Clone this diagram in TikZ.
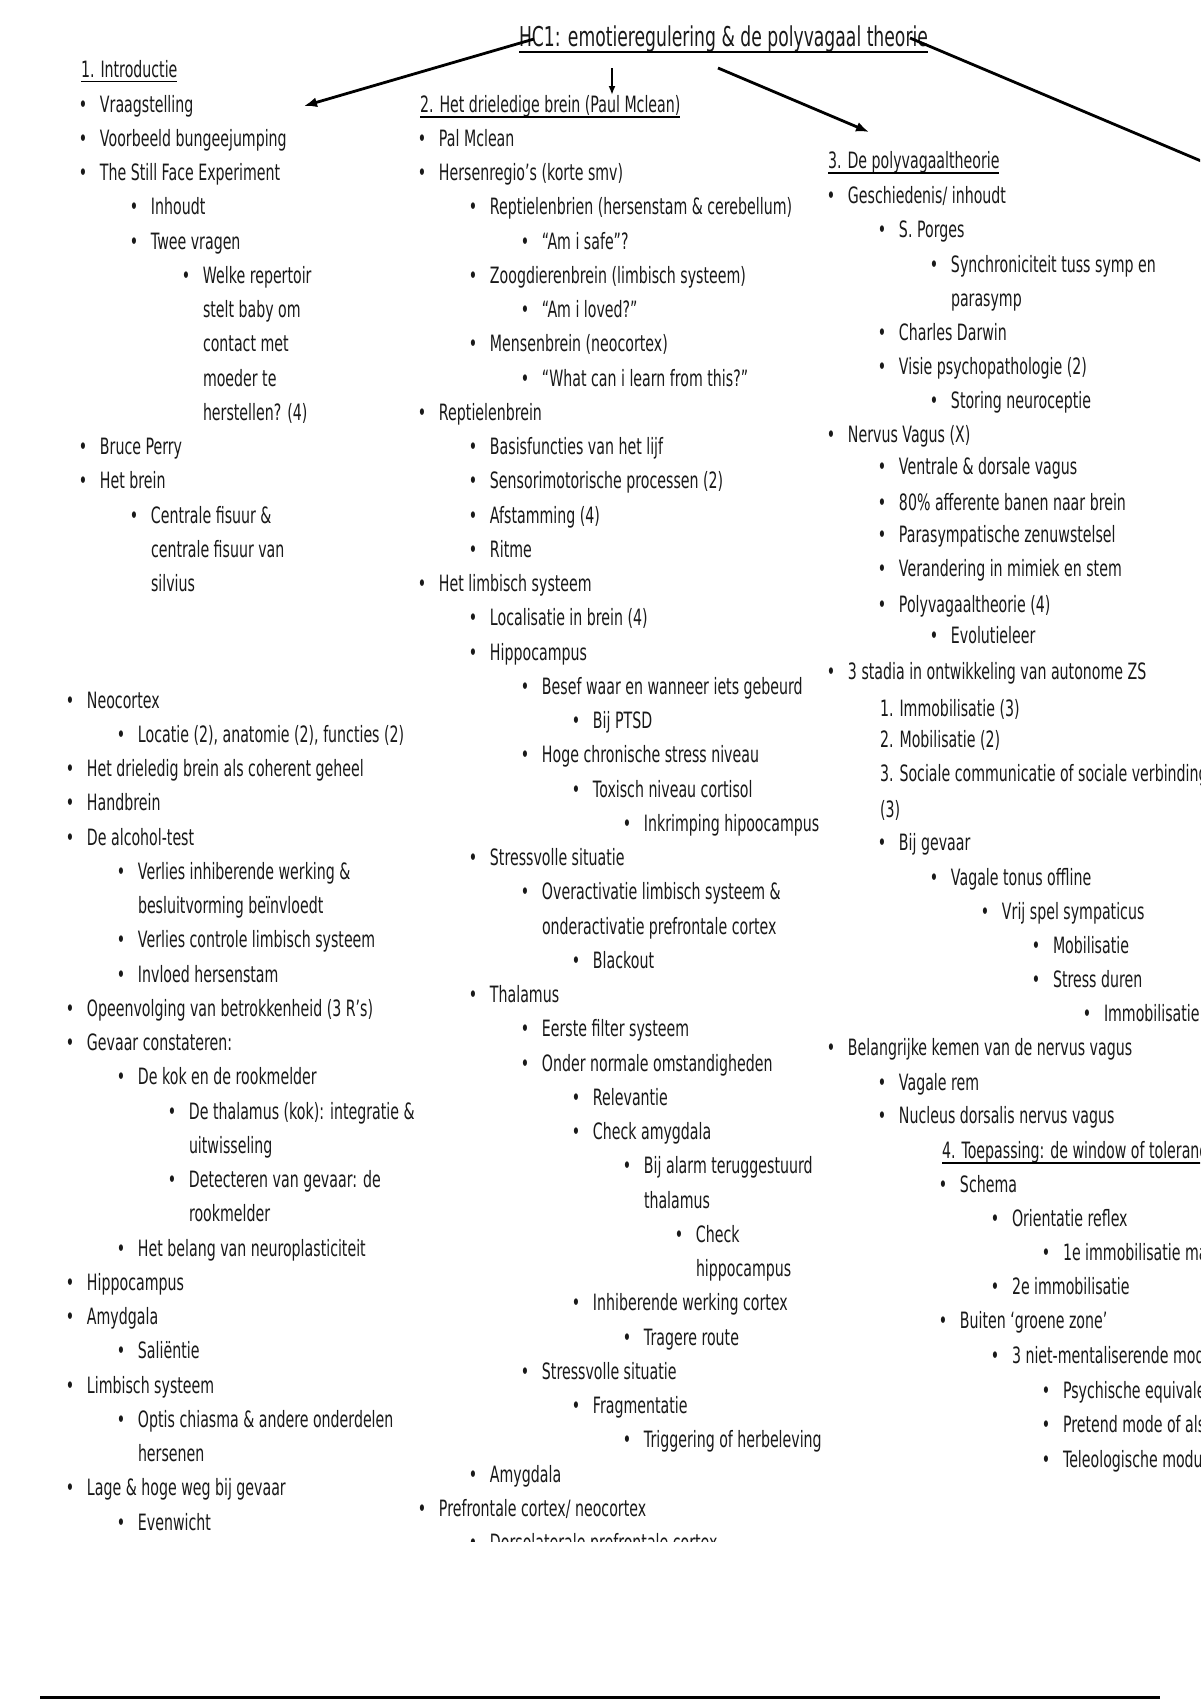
\documentclass[tikz,border=0pt]{standalone}
\usepackage{fontspec}
\setmainfont{DejaVu Sans}[FakeStretch=0.63]
\usetikzlibrary{arrows.meta}
\definecolor{ink}{gray}{0.1}
\newcounter{ln}
\newcommand\itm[3]{\stepcounter{ln}\node[txt] (t\arabic{ln}) at (#1,#2) {\llap{•\hspace{12.8pt}}#3};}
\newcommand\cnt[3]{\stepcounter{ln}\node[txt] (t\arabic{ln}) at (#1,#2) {#3};}
\tikzset{
  txt/.style={anchor=base west, inner sep=0pt, outer sep=0pt, text=ink, font=\fontsize{22.5}{27}\selectfont},
  ul/.style={line width=1.8pt, black},
  arr/.style={line width=2.8pt, black, -{Latex[length=13pt,width=10pt]}},
  arrs/.style={line width=2pt, black, -{Latex[length=9pt,width=7pt]}},
}
\begin{document}
\begin{tikzpicture}[x=1pt,y=-1pt]
\useasboundingbox (0,0) rectangle (1200,1700);
\clip (0,0) rectangle (1200,1700);
\fill[white] (0,0) rectangle (1200,1700);

% title
\node[txt, font=\fontsize{27.3}{32}\selectfont] (title) at (519,46) {HC1: emotieregulering \& de polyvagaal theorie};
\draw[ul] ([yshift=-6pt]title.base west) -- ([yshift=-6pt]title.base east);

% ---------- column 1 ----------
\node[txt] (h1) at (81,77) {1. Introductie};
\draw[ul] ([yshift=-4.5pt]h1.base west) -- ([yshift=-4.5pt]h1.base east);
\itm{100}{112}{Vraagstelling}
\itm{100}{146.25}{Voorbeeld bungeejumping}
\itm{100}{180.5}{The Still Face Experiment}
\itm{151}{214.75}{Inhoudt}
\itm{151}{249}{Twee vragen}
\itm{203}{283.25}{Welke repertoir}
\cnt{203}{317.5}{stelt baby om}
\cnt{203}{351.75}{contact met}
\cnt{203}{386}{moeder te}
\cnt{203}{420.25}{herstellen? (4)}
\itm{100}{454.5}{Bruce Perry}
\itm{100}{488.75}{Het brein}
\itm{151}{523}{Centrale fisuur \&}
\cnt{151}{557.25}{centrale fisuur van}
\cnt{151}{591.5}{silvius}

\itm{87}{708}{Neocortex}
\itm{138}{742.25}{Locatie (2), anatomie (2), functies (2)}
\itm{87}{776.5}{Het drieledig brein als coherent geheel}
\itm{87}{810.75}{Handbrein}
\itm{87}{845}{De alcohol-test}
\itm{138}{879.25}{Verlies inhiberende werking \&}
\cnt{138}{913.5}{besluitvorming beïnvloedt}
\itm{138}{947.75}{Verlies controle limbisch systeem}
\itm{138}{982}{Invloed hersenstam}
\itm{87}{1016.25}{Opeenvolging van betrokkenheid (3 R’s)}
\itm{87}{1050.5}{Gevaar constateren:}
\itm{138}{1084.75}{De kok en de rookmelder}
\itm{189}{1119}{De thalamus (kok): integratie \&}
\cnt{189}{1153.25}{uitwisseling}
\itm{189}{1187.5}{Detecteren van gevaar: de}
\cnt{189}{1221.75}{rookmelder}
\itm{138}{1256}{Het belang van neuroplasticiteit}
\itm{87}{1290.25}{Hippocampus}
\itm{87}{1324.5}{Amydgala}
\itm{138}{1358.75}{Saliëntie}
\itm{87}{1393}{Limbisch systeem}
\itm{138}{1427.25}{Optis chiasma \& andere onderdelen}
\cnt{138}{1461.5}{hersenen}
\itm{87}{1495.75}{Lage \& hoge weg bij gevaar}
\itm{138}{1530}{Evenwicht}

% ---------- column 2 ----------
\node[txt] (h2) at (420,112) {2. Het drieledige brein (Paul Mclean)};
\draw[ul] ([yshift=-5pt]h2.base west) -- ([yshift=-5pt]h2.base east);
\itm{439}{146.25}{Pal Mclean}
\itm{439}{180.5}{Hersenregio’s (korte smv)}
\itm{490}{214.75}{Reptielenbrien (hersenstam \& cerebellum)}
\itm{542}{249}{“Am i safe"?}
\itm{490}{283.25}{Zoogdierenbrein (limbisch systeem)}
\itm{542}{317.5}{“Am i loved?"}
\itm{490}{351.75}{Mensenbrein (neocortex)}
\itm{542}{386}{“What can i learn from this?"}
\itm{439}{420.25}{Reptielenbrein}
\itm{490}{454.5}{Basisfuncties van het lijf}
\itm{490}{488.75}{Sensorimotorische processen (2)}
\itm{490}{523}{Afstamming (4)}
\itm{490}{557.25}{Ritme}
\itm{439}{591.5}{Het limbisch systeem}
\itm{490}{625.75}{Localisatie in brein (4)}
\itm{490}{660}{Hippocampus}
\itm{542}{694.25}{Besef waar en wanneer iets gebeurd}
\itm{593}{728.5}{Bij PTSD}
\itm{542}{762.75}{Hoge chronische stress niveau}
\itm{593}{797}{Toxisch niveau cortisol}
\itm{644}{831.25}{Inkrimping hipoocampus}
\itm{490}{865.5}{Stressvolle situatie}
\itm{542}{899.75}{Overactivatie limbisch systeem \&}
\cnt{542}{934}{onderactivatie prefrontale cortex}
\itm{593}{968.25}{Blackout}
\itm{490}{1002.5}{Thalamus}
\itm{542}{1036.75}{Eerste filter systeem}
\itm{542}{1071}{Onder normale omstandigheden}
\itm{593}{1105.25}{Relevantie}
\itm{593}{1139.5}{Check amygdala}
\itm{644}{1173.75}{Bij alarm teruggestuurd}
\cnt{644}{1208}{thalamus}
\itm{696}{1242.25}{Check}
\cnt{696}{1276.5}{hippocampus}
\itm{593}{1310.75}{Inhiberende werking cortex}
\itm{644}{1345}{Tragere route}
\itm{542}{1379.25}{Stressvolle situatie}
\itm{593}{1413.5}{Fragmentatie}
\itm{644}{1447.75}{Triggering of herbeleving}
\itm{490}{1482}{Amygdala}
\itm{439}{1516.25}{Prefrontale cortex/ neocortex}
\begin{scope}
\clip (380,1520) rectangle (900,1541);
\itm{490}{1550.5}{Dorsolaterale prefrontale cortex}
\end{scope}

% ---------- column 3 ----------
\node[txt] (h3) at (828,168) {3. De polyvagaaltheorie};
\draw[ul] ([yshift=-5pt]h3.base west) -- ([yshift=-5pt]h3.base east);
\itm{848}{203}{Geschiedenis/ inhoudt}
\itm{899}{237}{S. Porges}
\itm{951}{272}{Synchroniciteit tuss symp en}
\cnt{951}{306}{parasymp}
\itm{899}{340}{Charles Darwin}
\itm{899}{374}{Visie psychopathologie (2)}
\itm{951}{408}{Storing neuroceptie}
\itm{848}{442}{Nervus Vagus (X)}
\itm{899}{474}{Ventrale \& dorsale vagus}
\itm{899}{510}{80\% afferente banen naar brein}
\itm{899}{542}{Parasympatische zenuwstelsel}
\itm{899}{576}{Verandering in mimiek en stem}
\itm{899}{612}{Polyvagaaltheorie (4)}
\itm{951}{643}{Evolutieleer}
\itm{848}{679}{3 stadia in ontwikkeling van autonome ZS}
\cnt{880}{716}{1. Immobilisatie (3)}
\cnt{880}{747}{2. Mobilisatie (2)}
\cnt{880}{781}{3. Sociale communicatie of sociale verbinding}
\cnt{880}{817}{(3)}
\itm{899}{850}{Bij gevaar}
\itm{951}{885}{Vagale tonus offline}
\itm{1002}{919}{Vrij spel sympaticus}
\itm{1053}{953}{Mobilisatie}
\itm{1053}{987}{Stress duren}
\itm{1104}{1021}{Immobilisatie}
\itm{848}{1055}{Belangrijke kemen van de nervus vagus}
\itm{899}{1090}{Vagale rem}
\itm{899}{1123}{Nucleus dorsalis nervus vagus}

% ---------- section 4 ----------
\node[txt] (h4) at (942,1158) {4. Toepassing: de window of toleranc};
\draw[ul] ([yshift=-5pt]h4.base west) -- ([yshift=-5pt]h4.base east);
\itm{960}{1192}{Schema}
\itm{1012}{1226}{Orientatie reflex}
\itm{1063}{1260}{1e immobilisatie ma}
\itm{1012}{1294}{2e immobilisatie}
\itm{960}{1328}{Buiten ‘groene zone’}
\itm{1012}{1363}{3 niet-mentaliserende mod}
\itm{1063}{1398}{Psychische equivale}
\itm{1063}{1432}{Pretend mode of als}
\itm{1063}{1467}{Teleologische modu}

% ---------- arrows ----------
\coordinate (a1s) at (534,39);
\coordinate (a1e) at (304,106);
\coordinate (a2s) at (612,68);
\coordinate (a2e) at (612,95);
\coordinate (a3s) at (718,68);
\coordinate (a3e) at (869,132);
\coordinate (a4s) at (910,38);
\coordinate (a4e) at (1265,188);
\draw[arr] (a1s) -- (a1e);
\draw[arrs] (a2s) -- (a2e);
\draw[arr] (a3s) -- (a3e);
\draw[arr] (a4s) -- (a4e);

% bottom rule
\coordinate (bl) at (40,1697);
\coordinate (br) at (1160,1697);
\draw[line width=3pt, black] (bl) -- (br);
\end{tikzpicture}
\end{document}
